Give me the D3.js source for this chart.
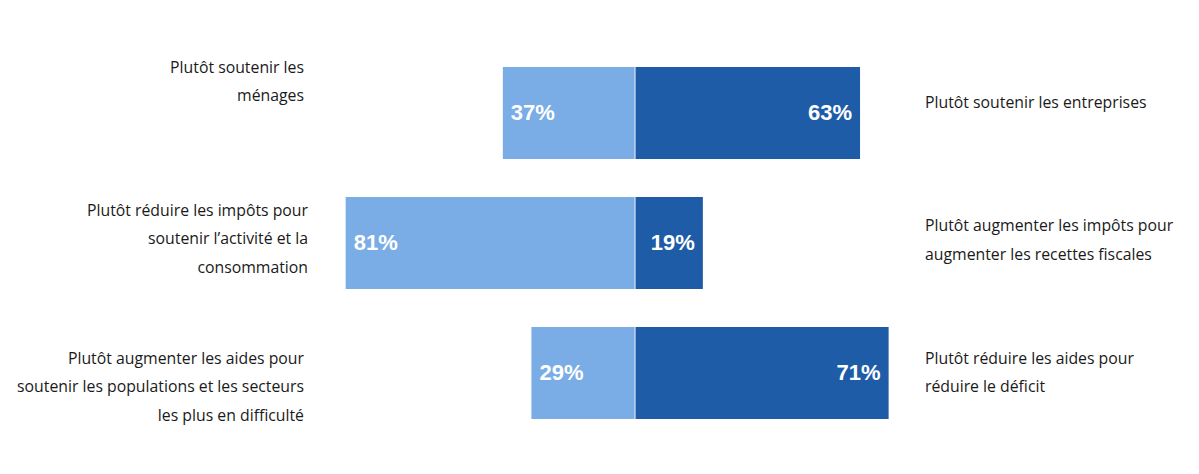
<!DOCTYPE html>
<html><head><meta charset="utf-8">
<script src="https://cdn.jsdelivr.net/npm/d3@7"></script>
<style>
html,body{margin:0;padding:0;background:#fff;}
svg{display:block;}
</style></head>
<body>
<script>
// Data
const leftLabels = [
  ["Plutôt soutenir les", "ménages"],
  ["Plutôt réduire les impôts pour", "soutenir l’activité et la", "consommation"],
  ["Plutôt augmenter les aides pour", "soutenir les populations et les secteurs", "les plus en difficulté"]
];
const rightLabels = [
  ["Plutôt soutenir les entreprises"],
  ["Plutôt augmenter les impôts pour", "augmenter les recettes fiscales"],
  ["Plutôt réduire les aides pour", "réduire le déficit"]
];
const leftValues = [37, 81, 29];
const rightValues = [63, 19, 71];
const rows = ["r1", "r2", "r3"];

// Layout
const W = 1199, H = 474;
const center = 635;
const pxPerPct = 3.572;
const svg = d3.select("body").append("svg").attr("width", W).attr("height", H);

const x = d3.scaleLinear().domain([-100, 100]).range([center - 100 * pxPerPct, center + 100 * pxPerPct]);
const pIn = 38 / 130, pOut = 0.2;
const y = d3.scaleBand().domain(rows).range([41, 41 + 130 * (3 - pIn + 2 * pOut)]).paddingInner(pIn).paddingOuter(pOut);

const light = "#7aace5", dark = "#1f5ca7";

const g = svg.append("g");
rows.forEach((r, i) => {
  const y0 = y(r), bh = y.bandwidth();
  g.append("rect").attr("x", x(-leftValues[i])).attr("y", y0)
    .attr("width", x(0) - x(-leftValues[i])).attr("height", bh).attr("fill", light);
  g.append("rect").attr("x", x(0)).attr("y", y0)
    .attr("width", x(rightValues[i]) - x(0)).attr("height", bh).attr("fill", dark);
  g.append("line").attr("x1", x(0)).attr("x2", x(0)).attr("y1", y0).attr("y2", y0 + bh)
    .attr("stroke", "#d6e4f5").attr("stroke-width", 1.2);
  g.append("text").attr("x", x(-leftValues[i]) + 8).attr("y", y0 + bh / 2 + 1.5)
    .attr("dominant-baseline", "middle").attr("fill", "#fff")
    .attr("font-family", "Liberation Sans, Arial, sans-serif").attr("font-weight", "bold")
    .attr("font-size", 22).text(leftValues[i] + "%");
  g.append("text").attr("x", x(rightValues[i]) - 8).attr("y", y0 + bh / 2 + 1.5)
    .attr("dominant-baseline", "middle").attr("text-anchor", "end").attr("fill", "#fff")
    .attr("font-family", "Liberation Sans, Arial, sans-serif").attr("font-weight", "bold")
    .attr("font-size", 22).text(rightValues[i] + "%");
});

// Category labels
const lineH = 28.5;
const leftCenters = [83, 240, 388];
const leftX = [304, 308, 304];
const rightCenters = [104, 241.5, 374];
const font = "'Open Sans', Lato, sans-serif";
function block(lines, cx, cy, anchor) {
  const n = lines.length;
  lines.forEach((t, k) => {
    svg.append("text").attr("x", cx).attr("y", cy + (k - (n - 1) / 2) * lineH)
      .attr("dominant-baseline", "middle").attr("text-anchor", anchor)
      .attr("font-family", font).attr("font-size", 15.8).attr("fill", "#1a1a1a").text(t);
  });
}
rows.forEach((r, i) => {
  block(leftLabels[i], leftX[i], leftCenters[i], "end");
  block(rightLabels[i], 925, rightCenters[i], "start");
});
</script>
</body></html>
